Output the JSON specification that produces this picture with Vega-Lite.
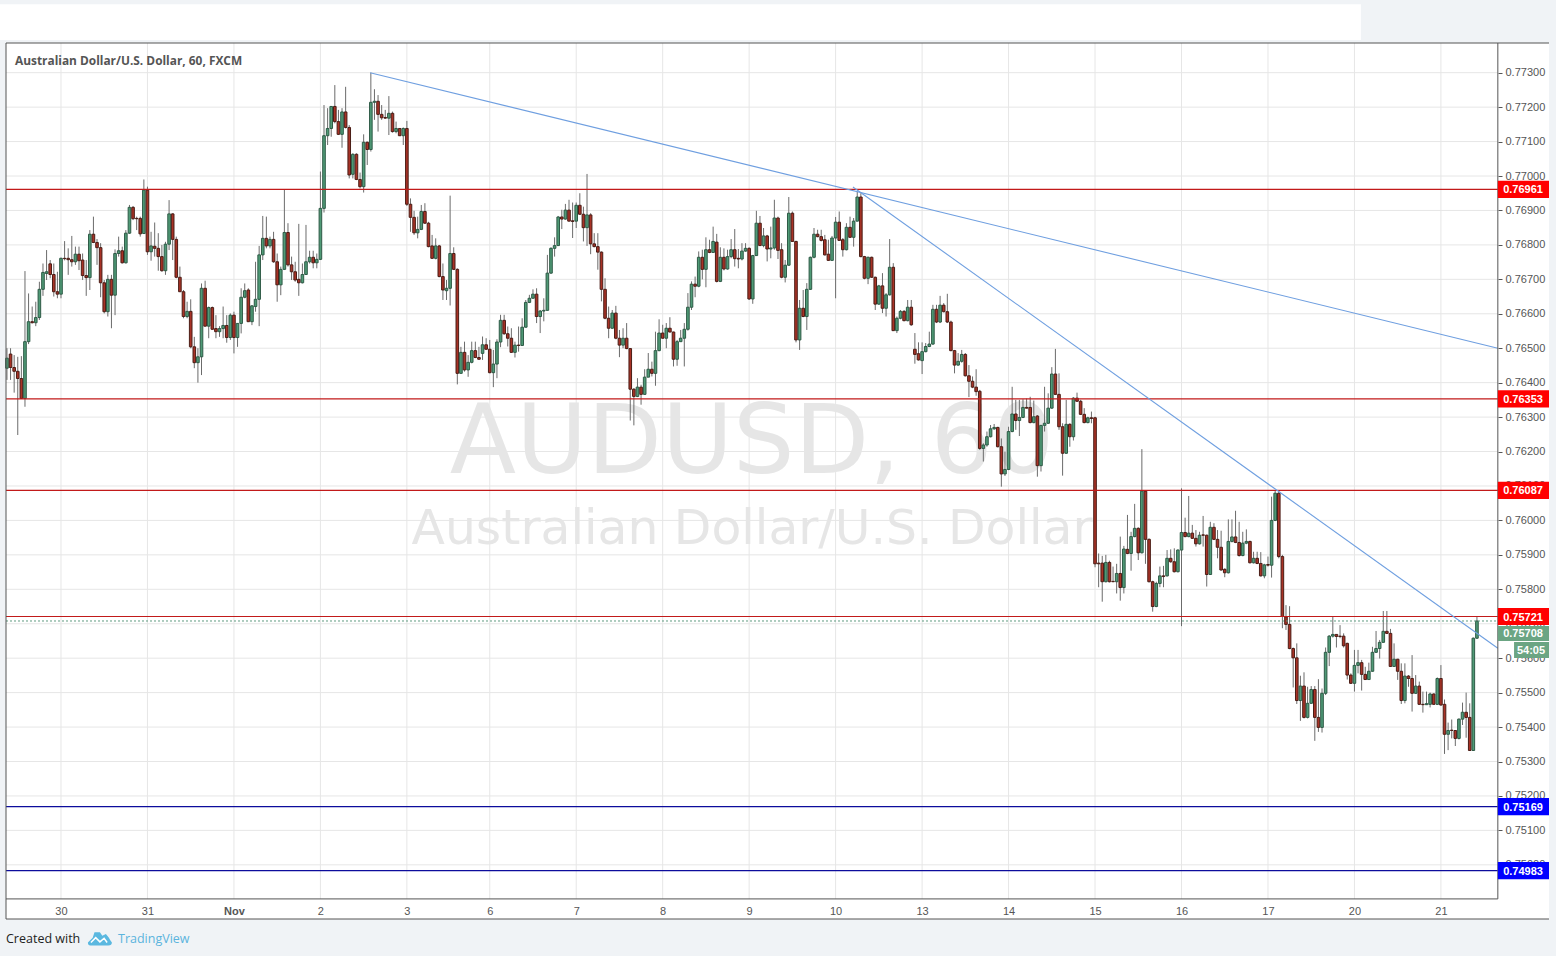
{"$schema":"https://vega.github.io/schema/vega-lite/v6.json","width":1543,"height":876,"autosize":{"type":"none"},"padding":{"left":6,"top":43,"right":7,"bottom":37},"background":"#f0f3f6","config":{"view":{"fill":"#ffffff","stroke":null}},
"datasets":{"candles":[
{"t":-15,"o":0.76442,"h":0.765,"l":0.76408,"c":0.76471},{"t":-14,"o":0.76483,"h":0.765,"l":0.76408,"c":0.76444},{"t":-13,"o":0.76444,"h":0.7648,"l":0.76371,"c":0.76433},{"t":-12,"o":0.76433,"h":0.76475,"l":0.76248,"c":0.76412},{"t":-11,"o":0.76412,"h":0.76477,"l":0.76354,"c":0.76354},{"t":-10,"o":0.76354,"h":0.76724,"l":0.7633,"c":0.76519},{"t":-9,"o":0.76519,"h":0.76659,"l":0.76512,"c":0.76577},{"t":-8,"o":0.76577,"h":0.76621,"l":0.76572,"c":0.76574},{"t":-7,"o":0.76574,"h":0.76635,"l":0.76564,"c":0.76589},{"t":-6,"o":0.76589,"h":0.76693,"l":0.76582,"c":0.76671},{"t":-5,"o":0.76671,"h":0.76746,"l":0.76652,"c":0.7672},{"t":-4,"o":0.76717,"h":0.76785,"l":0.76698,"c":0.76722},{"t":-3,"o":0.76745,"h":0.76756,"l":0.76703,"c":0.76714},{"t":-2,"o":0.76714,"h":0.76746,"l":0.7665,"c":0.76664},{"t":-1,"o":0.76664,"h":0.76722,"l":0.76645,"c":0.76657},
{"t":0,"o":0.76657,"h":0.76763,"l":0.76645,"c":0.76761},{"t":1,"o":0.76761,"h":0.76811,"l":0.76755,"c":0.7676},{"t":2,"o":0.76761,"h":0.7679,"l":0.76713,"c":0.76757},{"t":3,"o":0.76757,"h":0.76826,"l":0.76737,"c":0.76751},{"t":4,"o":0.76751,"h":0.76795,"l":0.76742,"c":0.76773},{"t":5,"o":0.76773,"h":0.76795,"l":0.76727,"c":0.76754},{"t":6,"o":0.76756,"h":0.76775,"l":0.76698,"c":0.76711},{"t":7,"o":0.76711,"h":0.76756,"l":0.76652,"c":0.76705},{"t":8,"o":0.76705,"h":0.76843,"l":0.76669,"c":0.76831},{"t":9,"o":0.76831,"h":0.76882,"l":0.76805,"c":0.76807},{"t":10,"o":0.76807,"h":0.76817,"l":0.76742,"c":0.76792},{"t":11,"o":0.76792,"h":0.76805,"l":0.76648,"c":0.7669},{"t":12,"o":0.7669,"h":0.76698,"l":0.76601,"c":0.76606},{"t":13,"o":0.76606,"h":0.76713,"l":0.76592,"c":0.767},{"t":14,"o":0.767,"h":0.76713,"l":0.76558,"c":0.76654},{"t":15,"o":0.76654,"h":0.76787,"l":0.76596,"c":0.76775},{"t":16,"o":0.76775,"h":0.76824,"l":0.76766,"c":0.76783},{"t":17,"o":0.76783,"h":0.76795,"l":0.76746,"c":0.76748},{"t":18,"o":0.76748,"h":0.76843,"l":0.76746,"c":0.76834},{"t":19,"o":0.76834,"h":0.76916,"l":0.76832,"c":0.76909},{"t":20,"o":0.76909,"h":0.76913,"l":0.76872,"c":0.76876},{"t":21,"o":0.76877,"h":0.76882,"l":0.76843,"c":0.76876},{"t":22,"o":0.76877,"h":0.76882,"l":0.76824,"c":0.76832},{"t":23,"o":0.76833,"h":0.7699,"l":0.76832,"c":0.76959},{"t":24,"o":0.76959,"h":0.76969,"l":0.76771,"c":0.7678},
{"t":25,"o":0.7678,"h":0.76838,"l":0.76754,"c":0.76797},{"t":26,"o":0.76796,"h":0.76865,"l":0.76766,"c":0.7679},{"t":27,"o":0.7679,"h":0.76834,"l":0.76725,"c":0.76766},{"t":28,"o":0.76766,"h":0.768,"l":0.76722,"c":0.76725},{"t":29,"o":0.76725,"h":0.76809,"l":0.76713,"c":0.76802},{"t":30,"o":0.76802,"h":0.7693,"l":0.76785,"c":0.7689},{"t":31,"o":0.7689,"h":0.76892,"l":0.76756,"c":0.76816},{"t":32,"o":0.76816,"h":0.76824,"l":0.76703,"c":0.76706},{"t":33,"o":0.76706,"h":0.76737,"l":0.76664,"c":0.76664},{"t":34,"o":0.76664,"h":0.76669,"l":0.76587,"c":0.76592},{"t":35,"o":0.76592,"h":0.76635,"l":0.76587,"c":0.76607},{"t":36,"o":0.76607,"h":0.76642,"l":0.765,"c":0.76504},{"t":37,"o":0.76504,"h":0.76533,"l":0.76442,"c":0.76458},{"t":38,"o":0.76458,"h":0.765,"l":0.764,"c":0.76475},{"t":39,"o":0.76475,"h":0.76688,"l":0.76422,"c":0.76674},{"t":40,"o":0.76674,"h":0.76696,"l":0.76563,"c":0.76564},{"t":41,"o":0.76564,"h":0.76621,"l":0.76529,"c":0.76618},{"t":42,"o":0.76618,"h":0.76621,"l":0.76553,"c":0.76555},{"t":43,"o":0.76557,"h":0.76596,"l":0.76529,"c":0.76548},{"t":44,"o":0.76548,"h":0.76564,"l":0.76533,"c":0.76557},{"t":45,"o":0.76557,"h":0.76621,"l":0.76529,"c":0.76566},{"t":46,"o":0.76566,"h":0.76596,"l":0.76516,"c":0.76531},{"t":47,"o":0.76531,"h":0.76601,"l":0.76524,"c":0.76596},{"t":48,"o":0.76596,"h":0.76606,"l":0.76485,"c":0.76531},{"t":49,"o":0.76531,"h":0.76572,"l":0.76504,"c":0.76572},
{"t":50,"o":0.76572,"h":0.76674,"l":0.76543,"c":0.76648},{"t":51,"o":0.76648,"h":0.76688,"l":0.76645,"c":0.76667},{"t":52,"o":0.76669,"h":0.76674,"l":0.76577,"c":0.76577},{"t":53,"o":0.76577,"h":0.76625,"l":0.76567,"c":0.76623},{"t":54,"o":0.76621,"h":0.76751,"l":0.76606,"c":0.76642},{"t":55,"o":0.76642,"h":0.76797,"l":0.76564,"c":0.76771},{"t":56,"o":0.76771,"h":0.76884,"l":0.76756,"c":0.76819},{"t":57,"o":0.76819,"h":0.76882,"l":0.7679,"c":0.76797},{"t":58,"o":0.76797,"h":0.76824,"l":0.7679,"c":0.76816},{"t":59,"o":0.76816,"h":0.76838,"l":0.76748,"c":0.76751},{"t":60,"o":0.76751,"h":0.76775,"l":0.76635,"c":0.76684},{"t":61,"o":0.76684,"h":0.76737,"l":0.76654,"c":0.76729},{"t":62,"o":0.76729,"h":0.76961,"l":0.76727,"c":0.76836},{"t":63,"o":0.76836,"h":0.76863,"l":0.76737,"c":0.76742},{"t":64,"o":0.76742,"h":0.76766,"l":0.76698,"c":0.76722},{"t":65,"o":0.76722,"h":0.76751,"l":0.76693,"c":0.76698},{"t":66,"o":0.767,"h":0.76861,"l":0.76652,"c":0.7669},{"t":67,"o":0.7669,"h":0.76746,"l":0.76688,"c":0.76714},{"t":68,"o":0.76714,"h":0.76858,"l":0.76713,"c":0.76751},{"t":69,"o":0.76751,"h":0.76783,"l":0.76746,"c":0.76764},{"t":70,"o":0.76764,"h":0.76783,"l":0.76732,"c":0.76748},{"t":71,"o":0.76748,"h":0.76775,"l":0.76732,"c":0.76758},{"t":72,"o":0.76758,"h":0.77013,"l":0.76756,"c":0.76906},{"t":73,"o":0.76906,"h":0.77206,"l":0.76894,"c":0.77117},{"t":74,"o":0.77117,"h":0.77197,"l":0.7709,"c":0.77138},
{"t":75,"o":0.77138,"h":0.77203,"l":0.77114,"c":0.77202},{"t":76,"o":0.77202,"h":0.77264,"l":0.77153,"c":0.77158},{"t":77,"o":0.77158,"h":0.77192,"l":0.77119,"c":0.77121},{"t":78,"o":0.77121,"h":0.77197,"l":0.77082,"c":0.77186},{"t":79,"o":0.77186,"h":0.77259,"l":0.77138,"c":0.77141},{"t":80,"o":0.77141,"h":0.77148,"l":0.76993,"c":0.77003},{"t":81,"o":0.77005,"h":0.77066,"l":0.76993,"c":0.77063},{"t":82,"o":0.77063,"h":0.77066,"l":0.76988,"c":0.7699},{"t":83,"o":0.7699,"h":0.7701,"l":0.76964,"c":0.76969},{"t":84,"o":0.76969,"h":0.77121,"l":0.76952,"c":0.77098},{"t":85,"o":0.77098,"h":0.771,"l":0.77032,"c":0.77077},{"t":86,"o":0.77077,"h":0.773,"l":0.77071,"c":0.77214},{"t":87,"o":0.77214,"h":0.77252,"l":0.77163,"c":0.77217},{"t":88,"o":0.77217,"h":0.77235,"l":0.77129,"c":0.77179},{"t":89,"o":0.77179,"h":0.77206,"l":0.77163,"c":0.77169},{"t":90,"o":0.7717,"h":0.77192,"l":0.77166,"c":0.77168},{"t":91,"o":0.77168,"h":0.77232,"l":0.77119,"c":0.77182},{"t":92,"o":0.77182,"h":0.77187,"l":0.77126,"c":0.77129},{"t":93,"o":0.77129,"h":0.77158,"l":0.77124,"c":0.77138},{"t":94,"o":0.77138,"h":0.77138,"l":0.77116,"c":0.77117},{"t":95,"o":0.77117,"h":0.77141,"l":0.7709,"c":0.77138},{"t":96,"o":0.77138,"h":0.7716,"l":0.76913,"c":0.76918},{"t":97,"o":0.76918,"h":0.76935,"l":0.76838,"c":0.7688},{"t":98,"o":0.7688,"h":0.76899,"l":0.76829,"c":0.76835},{"t":99,"o":0.76835,"h":0.76882,"l":0.76819,"c":0.76845},
{"t":100,"o":0.76845,"h":0.76916,"l":0.76843,"c":0.76897},{"t":101,"o":0.76897,"h":0.76921,"l":0.76861,"c":0.76863},{"t":102,"o":0.76863,"h":0.76867,"l":0.76793,"c":0.76795},{"t":103,"o":0.76797,"h":0.76829,"l":0.76759,"c":0.76761},{"t":104,"o":0.76761,"h":0.76819,"l":0.76758,"c":0.76797},{"t":105,"o":0.76797,"h":0.768,"l":0.76706,"c":0.76708},{"t":106,"o":0.76708,"h":0.76746,"l":0.7664,"c":0.76669},{"t":107,"o":0.76667,"h":0.76698,"l":0.7664,"c":0.76674},{"t":108,"o":0.76674,"h":0.76943,"l":0.76624,"c":0.76775},{"t":109,"o":0.76775,"h":0.76793,"l":0.76727,"c":0.76729},{"t":110,"o":0.76729,"h":0.76732,"l":0.76395,"c":0.76427},{"t":111,"o":0.76427,"h":0.76504,"l":0.76427,"c":0.76488},{"t":112,"o":0.76488,"h":0.76519,"l":0.76432,"c":0.76437},{"t":113,"o":0.76437,"h":0.7648,"l":0.76417,"c":0.76459},{"t":114,"o":0.76459,"h":0.76519,"l":0.76456,"c":0.76493},{"t":115,"o":0.76493,"h":0.76519,"l":0.76471,"c":0.76473},{"t":116,"o":0.76473,"h":0.76504,"l":0.76466,"c":0.76468},{"t":117,"o":0.76485,"h":0.76534,"l":0.76466,"c":0.7651},{"t":118,"o":0.7651,"h":0.76529,"l":0.76495,"c":0.76497},{"t":119,"o":0.76497,"h":0.76524,"l":0.76427,"c":0.76429},{"t":120,"o":0.76429,"h":0.76495,"l":0.76387,"c":0.76454},{"t":121,"o":0.76454,"h":0.76526,"l":0.76413,"c":0.76518},{"t":122,"o":0.76518,"h":0.76597,"l":0.76503,"c":0.76581},{"t":123,"o":0.76581,"h":0.76597,"l":0.76539,"c":0.76542},{"t":124,"o":0.76542,"h":0.76563,"l":0.76505,"c":0.76529},
{"t":125,"o":0.76529,"h":0.76558,"l":0.76487,"c":0.76488},{"t":126,"o":0.76488,"h":0.76519,"l":0.76473,"c":0.76509},{"t":127,"o":0.76509,"h":0.76563,"l":0.7649,"c":0.76508},{"t":128,"o":0.76508,"h":0.76587,"l":0.76508,"c":0.76561},{"t":129,"o":0.76561,"h":0.7664,"l":0.7656,"c":0.76633},{"t":130,"o":0.76633,"h":0.76655,"l":0.76631,"c":0.76645},{"t":131,"o":0.76645,"h":0.76671,"l":0.76645,"c":0.76657},{"t":132,"o":0.76657,"h":0.76674,"l":0.76573,"c":0.76592},{"t":133,"o":0.76592,"h":0.76611,"l":0.76544,"c":0.76608},{"t":134,"o":0.76608,"h":0.76645,"l":0.76578,"c":0.7661},{"t":135,"o":0.7661,"h":0.76771,"l":0.76609,"c":0.76718},{"t":136,"o":0.76718,"h":0.76793,"l":0.76716,"c":0.7679},{"t":137,"o":0.7679,"h":0.76822,"l":0.76766,"c":0.76798},{"t":138,"o":0.76798,"h":0.76884,"l":0.76797,"c":0.76881},{"t":139,"o":0.76881,"h":0.76902,"l":0.76846,"c":0.76875},{"t":140,"o":0.76875,"h":0.76919,"l":0.76873,"c":0.76901},{"t":141,"o":0.76901,"h":0.76931,"l":0.76868,"c":0.76869},{"t":142,"o":0.7687,"h":0.76923,"l":0.7682,"c":0.76868},{"t":143,"o":0.76869,"h":0.76923,"l":0.76849,"c":0.76915},{"t":144,"o":0.76915,"h":0.7695,"l":0.76887,"c":0.76889},{"t":145,"o":0.76889,"h":0.76911,"l":0.7681,"c":0.7685},{"t":146,"o":0.7685,"h":0.77006,"l":0.76797,"c":0.76887},{"t":147,"o":0.76887,"h":0.76892,"l":0.76773,"c":0.76803},{"t":148,"o":0.76803,"h":0.76834,"l":0.76793,"c":0.76795},{"t":149,"o":0.76795,"h":0.76834,"l":0.76728,"c":0.76779},
{"t":150,"o":0.76779,"h":0.76781,"l":0.76636,"c":0.76671},{"t":151,"o":0.76671,"h":0.76703,"l":0.76584,"c":0.76587},{"t":152,"o":0.76587,"h":0.76621,"l":0.76529,"c":0.76558},{"t":153,"o":0.76558,"h":0.76611,"l":0.76556,"c":0.76602},{"t":154,"o":0.76602,"h":0.76623,"l":0.76526,"c":0.76529},{"t":155,"o":0.76529,"h":0.76553,"l":0.76474,"c":0.76509},{"t":156,"o":0.76509,"h":0.76558,"l":0.765,"c":0.76529},{"t":157,"o":0.76529,"h":0.76573,"l":0.76497,"c":0.76499},{"t":158,"o":0.76499,"h":0.765,"l":0.7629,"c":0.76381},{"t":159,"o":0.76381,"h":0.76384,"l":0.76276,"c":0.7636},{"t":160,"o":0.7636,"h":0.76413,"l":0.76358,"c":0.76387},{"t":161,"o":0.76387,"h":0.76394,"l":0.76336,"c":0.76366},{"t":162,"o":0.76366,"h":0.76439,"l":0.76365,"c":0.76416},{"t":163,"o":0.76416,"h":0.76486,"l":0.76416,"c":0.76439},{"t":164,"o":0.76439,"h":0.76461,"l":0.76418,"c":0.76427},{"t":165,"o":0.76427,"h":0.76548,"l":0.76391,"c":0.76493},{"t":166,"o":0.76493,"h":0.76584,"l":0.76491,"c":0.76544},{"t":167,"o":0.76544,"h":0.76568,"l":0.76528,"c":0.76529},{"t":168,"o":0.76529,"h":0.76573,"l":0.765,"c":0.76558},{"t":169,"o":0.76558,"h":0.7659,"l":0.76546,"c":0.76547},{"t":170,"o":0.76547,"h":0.76548,"l":0.76447,"c":0.76468},{"t":171,"o":0.76468,"h":0.76524,"l":0.76449,"c":0.76519},{"t":172,"o":0.76519,"h":0.76553,"l":0.76518,"c":0.76529},{"t":173,"o":0.76529,"h":0.76573,"l":0.76447,"c":0.76555},{"t":174,"o":0.76555,"h":0.7666,"l":0.76551,"c":0.76619},
{"t":175,"o":0.76619,"h":0.76694,"l":0.76611,"c":0.76686},{"t":176,"o":0.76686,"h":0.76708,"l":0.76648,"c":0.7668},{"t":177,"o":0.7668,"h":0.76781,"l":0.76677,"c":0.76764},{"t":178,"o":0.76764,"h":0.76786,"l":0.767,"c":0.76729},{"t":179,"o":0.76729,"h":0.76822,"l":0.76677,"c":0.76786},{"t":180,"o":0.76786,"h":0.76815,"l":0.76776,"c":0.76778},{"t":181,"o":0.76778,"h":0.76853,"l":0.76778,"c":0.7681},{"t":182,"o":0.76808,"h":0.76832,"l":0.76691,"c":0.76694},{"t":183,"o":0.76694,"h":0.76793,"l":0.76692,"c":0.76764},{"t":184,"o":0.76764,"h":0.7679,"l":0.76726,"c":0.7673},{"t":185,"o":0.7673,"h":0.76786,"l":0.76728,"c":0.76766},{"t":186,"o":0.76766,"h":0.76817,"l":0.76761,"c":0.76786},{"t":187,"o":0.76786,"h":0.76846,"l":0.76737,"c":0.7676},{"t":188,"o":0.76761,"h":0.76788,"l":0.76732,"c":0.76759},{"t":189,"o":0.76759,"h":0.76805,"l":0.76755,"c":0.76782},{"t":190,"o":0.76782,"h":0.76805,"l":0.7678,"c":0.7679},{"t":191,"o":0.7679,"h":0.76793,"l":0.7664,"c":0.76643},{"t":192,"o":0.76643,"h":0.76771,"l":0.76629,"c":0.76769},{"t":193,"o":0.76769,"h":0.76899,"l":0.76768,"c":0.76863},{"t":194,"o":0.76863,"h":0.76884,"l":0.76797,"c":0.76798},{"t":195,"o":0.76798,"h":0.76849,"l":0.76793,"c":0.76826},{"t":196,"o":0.76826,"h":0.76829,"l":0.76752,"c":0.76788},{"t":197,"o":0.76788,"h":0.76853,"l":0.76761,"c":0.76791},{"t":198,"o":0.76791,"h":0.76931,"l":0.76786,"c":0.76878},{"t":199,"o":0.76878,"h":0.76882,"l":0.76759,"c":0.76784},
{"t":200,"o":0.76786,"h":0.76805,"l":0.76703,"c":0.76706},{"t":201,"o":0.76706,"h":0.76756,"l":0.76691,"c":0.76741},{"t":202,"o":0.76741,"h":0.76939,"l":0.76739,"c":0.76892},{"t":203,"o":0.76892,"h":0.76897,"l":0.76809,"c":0.7681},{"t":204,"o":0.7681,"h":0.76812,"l":0.76517,"c":0.76524},{"t":205,"o":0.76524,"h":0.7664,"l":0.76495,"c":0.76616},{"t":206,"o":0.76616,"h":0.76669,"l":0.7659,"c":0.76592},{"t":207,"o":0.76592,"h":0.76689,"l":0.76553,"c":0.76671},{"t":208,"o":0.76671,"h":0.76766,"l":0.76669,"c":0.76764},{"t":209,"o":0.76764,"h":0.76849,"l":0.76761,"c":0.76831},{"t":210,"o":0.76831,"h":0.76844,"l":0.76822,"c":0.76824},{"t":211,"o":0.76824,"h":0.76844,"l":0.7681,"c":0.76813},{"t":212,"o":0.76815,"h":0.76829,"l":0.76769,"c":0.76771},{"t":213,"o":0.76773,"h":0.76815,"l":0.76754,"c":0.76755},{"t":214,"o":0.76755,"h":0.76826,"l":0.76754,"c":0.7682},{"t":215,"o":0.7682,"h":0.76881,"l":0.76645,"c":0.76866},{"t":216,"o":0.76866,"h":0.76897,"l":0.76812,"c":0.76813},{"t":217,"o":0.76815,"h":0.7682,"l":0.76766,"c":0.76786},{"t":218,"o":0.76786,"h":0.76863,"l":0.76784,"c":0.76851},{"t":219,"o":0.76851,"h":0.76882,"l":0.7682,"c":0.76822},{"t":220,"o":0.76822,"h":0.76878,"l":0.76795,"c":0.76869},{"t":221,"o":0.76869,"h":0.76955,"l":0.76868,"c":0.76939},{"t":222,"o":0.76939,"h":0.7695,"l":0.76764,"c":0.76766},{"t":223,"o":0.76766,"h":0.76768,"l":0.767,"c":0.76703},{"t":224,"o":0.76703,"h":0.76766,"l":0.76686,"c":0.76764},
{"t":225,"o":0.76764,"h":0.76766,"l":0.76704,"c":0.76706},{"t":226,"o":0.76706,"h":0.76708,"l":0.76611,"c":0.76628},{"t":227,"o":0.76628,"h":0.76684,"l":0.76626,"c":0.76681},{"t":228,"o":0.76681,"h":0.76718,"l":0.76602,"c":0.76616},{"t":229,"o":0.76616,"h":0.7666,"l":0.76592,"c":0.76655},{"t":230,"o":0.76655,"h":0.76817,"l":0.76653,"c":0.76735},{"t":231,"o":0.76735,"h":0.76747,"l":0.7655,"c":0.76551},{"t":232,"o":0.76551,"h":0.76592,"l":0.76544,"c":0.76587},{"t":233,"o":0.76587,"h":0.76611,"l":0.76584,"c":0.76607},{"t":234,"o":0.76607,"h":0.76611,"l":0.76578,"c":0.7658},{"t":235,"o":0.7658,"h":0.7664,"l":0.76578,"c":0.76619},{"t":236,"o":0.76619,"h":0.7664,"l":0.76565,"c":0.76568},{"t":237,"o":0.76497,"h":0.76544,"l":0.76455,"c":0.76482},{"t":238,"o":0.76484,"h":0.76517,"l":0.76464,"c":0.76466},{"t":239,"o":0.76464,"h":0.76517,"l":0.76425,"c":0.7649},{"t":240,"o":0.7649,"h":0.76515,"l":0.76488,"c":0.76505},{"t":241,"o":0.76505,"h":0.76548,"l":0.76503,"c":0.76512},{"t":242,"o":0.76512,"h":0.76626,"l":0.7651,"c":0.76613},{"t":243,"o":0.76613,"h":0.76626,"l":0.76573,"c":0.76576},{"t":244,"o":0.76576,"h":0.76652,"l":0.76573,"c":0.76625},{"t":245,"o":0.76625,"h":0.76631,"l":0.76604,"c":0.76606},{"t":246,"o":0.76606,"h":0.76658,"l":0.76573,"c":0.76576},{"t":247,"o":0.76576,"h":0.7658,"l":0.76491,"c":0.76493},{"t":248,"o":0.76493,"h":0.76495,"l":0.76427,"c":0.76451},{"t":249,"o":0.76451,"h":0.76486,"l":0.76449,"c":0.76462},
{"t":250,"o":0.76462,"h":0.76495,"l":0.76458,"c":0.76482},{"t":251,"o":0.76482,"h":0.76486,"l":0.76418,"c":0.7642},{"t":252,"o":0.7642,"h":0.76451,"l":0.76358,"c":0.76404},{"t":253,"o":0.76404,"h":0.76418,"l":0.76384,"c":0.76387},{"t":254,"o":0.76387,"h":0.76439,"l":0.76362,"c":0.76374},{"t":255,"o":0.76375,"h":0.76379,"l":0.76205,"c":0.76209},{"t":256,"o":0.76209,"h":0.76224,"l":0.76171,"c":0.76219},{"t":257,"o":0.76219,"h":0.76258,"l":0.76214,"c":0.76243},{"t":258,"o":0.76243,"h":0.76277,"l":0.76241,"c":0.76266},{"t":259,"o":0.76266,"h":0.7628,"l":0.76263,"c":0.7627},{"t":260,"o":0.7627,"h":0.76272,"l":0.76212,"c":0.76214},{"t":261,"o":0.76214,"h":0.76238,"l":0.76098,"c":0.76135},{"t":262,"o":0.76135,"h":0.762,"l":0.76129,"c":0.76148},{"t":263,"o":0.76148,"h":0.76272,"l":0.76146,"c":0.76258},{"t":264,"o":0.76258,"h":0.76388,"l":0.76256,"c":0.76309},{"t":265,"o":0.76309,"h":0.7635,"l":0.76263,"c":0.7629},{"t":266,"o":0.7629,"h":0.7635,"l":0.76245,"c":0.76299},{"t":267,"o":0.76299,"h":0.76352,"l":0.76297,"c":0.76328},{"t":268,"o":0.76328,"h":0.76354,"l":0.76325,"c":0.76326},{"t":269,"o":0.76328,"h":0.76359,"l":0.76282,"c":0.76284},{"t":270,"o":0.76284,"h":0.76348,"l":0.76282,"c":0.76301},{"t":271,"o":0.76303,"h":0.76306,"l":0.76127,"c":0.76159},{"t":272,"o":0.76159,"h":0.76277,"l":0.76142,"c":0.76276},{"t":273,"o":0.76276,"h":0.76388,"l":0.76258,"c":0.76282},{"t":274,"o":0.76282,"h":0.76369,"l":0.7628,"c":0.76326},
{"t":275,"o":0.76326,"h":0.76445,"l":0.76324,"c":0.76425},{"t":276,"o":0.76425,"h":0.76498,"l":0.76364,"c":0.76366},{"t":277,"o":0.76366,"h":0.76427,"l":0.76263,"c":0.76272},{"t":278,"o":0.76272,"h":0.76282,"l":0.7613,"c":0.76195},{"t":279,"o":0.76195,"h":0.7635,"l":0.76193,"c":0.76279},{"t":280,"o":0.76279,"h":0.76282,"l":0.76214,"c":0.76243},{"t":281,"o":0.76243,"h":0.76358,"l":0.76232,"c":0.76355},{"t":282,"o":0.76355,"h":0.76371,"l":0.76344,"c":0.76346},{"t":283,"o":0.76346,"h":0.7635,"l":0.76306,"c":0.76308},{"t":284,"o":0.76308,"h":0.76326,"l":0.76282,"c":0.76284},{"t":285,"o":0.76284,"h":0.76301,"l":0.76282,"c":0.76298},{"t":286,"o":0.76298,"h":0.76316,"l":0.76282,"c":0.76296},{"t":287,"o":0.76298,"h":0.76301,"l":0.75864,"c":0.75874},{"t":288,"o":0.75876,"h":0.75904,"l":0.75806,"c":0.75874},{"t":289,"o":0.75876,"h":0.75897,"l":0.75764,"c":0.75822},{"t":290,"o":0.75822,"h":0.759,"l":0.7582,"c":0.75878},{"t":291,"o":0.75878,"h":0.75883,"l":0.7582,"c":0.75822},{"t":292,"o":0.75823,"h":0.75866,"l":0.75821,"c":0.75822},{"t":293,"o":0.75822,"h":0.75874,"l":0.75788,"c":0.75846},{"t":294,"o":0.75846,"h":0.75953,"l":0.75767,"c":0.75805},{"t":295,"o":0.75805,"h":0.75926,"l":0.75788,"c":0.75917},{"t":296,"o":0.75916,"h":0.76016,"l":0.75902,"c":0.75904},{"t":297,"o":0.75904,"h":0.75967,"l":0.75854,"c":0.75953},{"t":298,"o":0.75953,"h":0.76048,"l":0.75951,"c":0.75977},{"t":299,"o":0.75977,"h":0.7598,"l":0.75885,"c":0.75906},
{"t":300,"o":0.75906,"h":0.76207,"l":0.75904,"c":0.76085},{"t":301,"o":0.76085,"h":0.76088,"l":0.75874,"c":0.75945},{"t":302,"o":0.75945,"h":0.75948,"l":0.7582,"c":0.75822},{"t":303,"o":0.75822,"h":0.75825,"l":0.75735,"c":0.7575},{"t":304,"o":0.7575,"h":0.75822,"l":0.75748,"c":0.75817},{"t":305,"o":0.75817,"h":0.75866,"l":0.75806,"c":0.75839},{"t":306,"o":0.75839,"h":0.75868,"l":0.75806,"c":0.75837},{"t":307,"o":0.75839,"h":0.75914,"l":0.75837,"c":0.7589},{"t":308,"o":0.7589,"h":0.75916,"l":0.75877,"c":0.7588},{"t":309,"o":0.7588,"h":0.75919,"l":0.75849,"c":0.75851},{"t":310,"o":0.75851,"h":0.75916,"l":0.75849,"c":0.75914},{"t":311,"o":0.75914,"h":0.76093,"l":0.75693,"c":0.75965},{"t":312,"o":0.75965,"h":0.76008,"l":0.75951,"c":0.75953},{"t":313,"o":0.75953,"h":0.76071,"l":0.75951,"c":0.75963},{"t":314,"o":0.75963,"h":0.75987,"l":0.75946,"c":0.75948},{"t":315,"o":0.75948,"h":0.75972,"l":0.75924,"c":0.75932},{"t":316,"o":0.75932,"h":0.75967,"l":0.7593,"c":0.75957},{"t":317,"o":0.75958,"h":0.76013,"l":0.75924,"c":0.75957},{"t":318,"o":0.75957,"h":0.75959,"l":0.75808,"c":0.75843},{"t":319,"o":0.75843,"h":0.75996,"l":0.75842,"c":0.7598},{"t":320,"o":0.7598,"h":0.75992,"l":0.75943,"c":0.75945},{"t":321,"o":0.75945,"h":0.75972,"l":0.7589,"c":0.75922},{"t":322,"o":0.75922,"h":0.7597,"l":0.75854,"c":0.75856},{"t":323,"o":0.75858,"h":0.75861,"l":0.75835,"c":0.75848},{"t":324,"o":0.75848,"h":0.76003,"l":0.75846,"c":0.75939},
{"t":325,"o":0.75939,"h":0.76003,"l":0.75936,"c":0.75952},{"t":326,"o":0.75952,"h":0.76028,"l":0.75934,"c":0.75936},{"t":327,"o":0.75936,"h":0.75996,"l":0.75895,"c":0.75898},{"t":328,"o":0.75898,"h":0.75967,"l":0.75896,"c":0.75934},{"t":329,"o":0.75934,"h":0.75974,"l":0.75931,"c":0.75939},{"t":330,"o":0.75939,"h":0.75941,"l":0.75875,"c":0.75877},{"t":331,"o":0.75877,"h":0.75909,"l":0.75875,"c":0.7589},{"t":332,"o":0.7589,"h":0.75909,"l":0.75873,"c":0.75875},{"t":333,"o":0.75875,"h":0.75908,"l":0.75837,"c":0.75839},{"t":334,"o":0.75839,"h":0.75874,"l":0.75832,"c":0.75871},{"t":335,"o":0.75872,"h":0.75895,"l":0.75866,"c":0.7587},{"t":336,"o":0.7587,"h":0.76069,"l":0.75834,"c":0.76},{"t":337,"o":0.76,"h":0.76086,"l":0.75998,"c":0.76079},{"t":338,"o":0.76079,"h":0.76084,"l":0.7589,"c":0.75895},{"t":339,"o":0.75895,"h":0.759,"l":0.75687,"c":0.75721},{"t":340,"o":0.7572,"h":0.75754,"l":0.75682,"c":0.75698},{"t":341,"o":0.75698,"h":0.75751,"l":0.75626,"c":0.75628},{"t":342,"o":0.75628,"h":0.75631,"l":0.75515,"c":0.75601},{"t":343,"o":0.75601,"h":0.75643,"l":0.75467,"c":0.75477},{"t":344,"o":0.75477,"h":0.75549,"l":0.75418,"c":0.75519},{"t":345,"o":0.75519,"h":0.75559,"l":0.75425,"c":0.75428},{"t":346,"o":0.75428,"h":0.75517,"l":0.75425,"c":0.75469},{"t":347,"o":0.75469,"h":0.75519,"l":0.75467,"c":0.75509},{"t":348,"o":0.75509,"h":0.75519,"l":0.7536,"c":0.75428},{"t":349,"o":0.75428,"h":0.75539,"l":0.75386,"c":0.75399},
{"t":350,"o":0.75399,"h":0.75512,"l":0.75384,"c":0.75498},{"t":351,"o":0.75498,"h":0.75631,"l":0.75493,"c":0.75617},{"t":352,"o":0.75617,"h":0.75667,"l":0.75577,"c":0.75664},{"t":353,"o":0.75664,"h":0.7572,"l":0.7566,"c":0.75669},{"t":354,"o":0.75669,"h":0.7567,"l":0.75631,"c":0.75663},{"t":355,"o":0.75664,"h":0.75696,"l":0.75658,"c":0.75663},{"t":356,"o":0.75664,"h":0.75672,"l":0.75631,"c":0.75636},{"t":357,"o":0.75643,"h":0.75645,"l":0.75538,"c":0.75551},{"t":358,"o":0.75551,"h":0.75556,"l":0.75525,"c":0.75527},{"t":359,"o":0.75527,"h":0.75624,"l":0.75503,"c":0.75579},{"t":360,"o":0.75579,"h":0.75624,"l":0.75556,"c":0.75587},{"t":361,"o":0.75587,"h":0.75595,"l":0.75506,"c":0.75553},{"t":362,"o":0.75553,"h":0.75575,"l":0.75537,"c":0.75538},{"t":363,"o":0.75538,"h":0.75587,"l":0.75537,"c":0.75562},{"t":364,"o":0.75562,"h":0.75633,"l":0.75561,"c":0.75617},{"t":365,"o":0.75617,"h":0.75679,"l":0.75615,"c":0.75628},{"t":366,"o":0.75628,"h":0.75653,"l":0.75599,"c":0.75646},{"t":367,"o":0.75646,"h":0.75737,"l":0.75645,"c":0.75678},{"t":368,"o":0.75678,"h":0.75737,"l":0.7567,"c":0.75672},{"t":369,"o":0.75672,"h":0.75685,"l":0.75575,"c":0.75576},{"t":370,"o":0.75576,"h":0.75643,"l":0.75575,"c":0.75597},{"t":371,"o":0.75597,"h":0.75598,"l":0.75537,"c":0.75562},{"t":372,"o":0.75562,"h":0.75585,"l":0.75467,"c":0.75477},{"t":373,"o":0.75477,"h":0.75585,"l":0.75469,"c":0.75548},{"t":374,"o":0.75548,"h":0.75551,"l":0.75517,"c":0.75541},
{"t":375,"o":0.75541,"h":0.75609,"l":0.75445,"c":0.75498},{"t":376,"o":0.75498,"h":0.75551,"l":0.75496,"c":0.75519},{"t":377,"o":0.75519,"h":0.75532,"l":0.75464,"c":0.75466},{"t":378,"o":0.75466,"h":0.75503,"l":0.75442,"c":0.75465},{"t":379,"o":0.75465,"h":0.75503,"l":0.75465,"c":0.75468},{"t":380,"o":0.75466,"h":0.755,"l":0.75457,"c":0.75496},{"t":381,"o":0.75496,"h":0.75498,"l":0.75464,"c":0.75466},{"t":382,"o":0.75466,"h":0.75544,"l":0.75464,"c":0.75541},{"t":383,"o":0.75541,"h":0.7558,"l":0.75462,"c":0.75464},{"t":384,"o":0.75466,"h":0.7548,"l":0.75322,"c":0.75379},{"t":385,"o":0.75379,"h":0.75413,"l":0.75333,"c":0.7539},{"t":386,"o":0.75391,"h":0.75422,"l":0.75367,"c":0.7539},{"t":387,"o":0.7539,"h":0.75391,"l":0.75345,"c":0.75367},{"t":388,"o":0.75367,"h":0.75425,"l":0.75364,"c":0.75423},{"t":389,"o":0.75423,"h":0.75471,"l":0.75406,"c":0.75443},{"t":390,"o":0.75443,"h":0.755,"l":0.75369,"c":0.75428},{"t":391,"o":0.75428,"h":0.75469,"l":0.75331,"c":0.75332},{"t":392,"o":0.75332,"h":0.7566,"l":0.75331,"c":0.75658},{"t":393,"o":0.75658,"h":0.7572,"l":0.75656,"c":0.75708}
],
"gridh":[{"p":0.750,"t":-15.265,"t2":398.8},{"p":0.751,"t":-15.265,"t2":398.8},{"p":0.752,"t":-15.265,"t2":398.8},{"p":0.753,"t":-15.265,"t2":398.8},{"p":0.754,"t":-15.265,"t2":398.8},{"p":0.755,"t":-15.265,"t2":398.8},{"p":0.756,"t":-15.265,"t2":398.8},{"p":0.757,"t":-15.265,"t2":398.8},{"p":0.758,"t":-15.265,"t2":398.8},{"p":0.759,"t":-15.265,"t2":398.8},{"p":0.760,"t":-15.265,"t2":398.8},{"p":0.761,"t":-15.265,"t2":398.8},{"p":0.762,"t":-15.265,"t2":398.8},{"p":0.763,"t":-15.265,"t2":398.8},{"p":0.764,"t":-15.265,"t2":398.8},{"p":0.765,"t":-15.265,"t2":398.8},{"p":0.766,"t":-15.265,"t2":398.8},{"p":0.767,"t":-15.265,"t2":398.8},{"p":0.768,"t":-15.265,"t2":398.8},{"p":0.769,"t":-15.265,"t2":398.8},{"p":0.770,"t":-15.265,"t2":398.8},{"p":0.771,"t":-15.265,"t2":398.8},{"p":0.772,"t":-15.265,"t2":398.8},{"p":0.773,"t":-15.265,"t2":398.8}],
"gridv":[{"t":0,"p":0.773862,"p2":0.74901},{"t":24,"p":0.773862,"p2":0.74901},{"t":48,"p":0.773862,"p2":0.74901},{"t":72,"p":0.773862,"p2":0.74901},{"t":96,"p":0.773862,"p2":0.74901},{"t":119,"p":0.773862,"p2":0.74901},{"t":143,"p":0.773862,"p2":0.74901},{"t":167,"p":0.773862,"p2":0.74901},{"t":191,"p":0.773862,"p2":0.74901},{"t":215,"p":0.773862,"p2":0.74901},{"t":239,"p":0.773862,"p2":0.74901},{"t":263,"p":0.773862,"p2":0.74901},{"t":287,"p":0.773862,"p2":0.74901},{"t":311,"p":0.773862,"p2":0.74901},{"t":335,"p":0.773862,"p2":0.74901},{"t":359,"p":0.773862,"p2":0.74901},{"t":383,"p":0.773862,"p2":0.74901}],
"redlevels":[{"p":0.76961,"t":-15.265,"t2":398.8},{"p":0.76353,"t":-15.265,"t2":398.8},{"p":0.76087,"t":-15.265,"t2":398.8},{"p":0.75721,"t":-15.265,"t2":398.8}],
"bluelevels":[{"p":0.75169,"t":-15.265,"t2":398.8},{"p":0.74983,"t":-15.265,"t2":398.8}],
"trend":[{"id":"a","t":85.8,"p":0.773},{"id":"a","t":398.8,"p":0.765},{"id":"b","t":219.8,"p":0.76968},{"id":"b","t":398.8,"p":0.75629}],
"frameh":[{"p":0.773862,"t":-15.265,"t2":413},{"p":0.74901,"t":-15.265,"t2":398.8},{"p":0.748427,"t":-15.265,"t2":413}],
"framev":[{"t":-15.265,"p":0.773862,"p2":0.748427},{"t":398.8,"p":0.773862,"p2":0.74901}],
"tagsred":[{"t":398.8,"t2":413,"p":0.76986,"p2":0.76936},{"t":398.8,"t2":413,"p":0.76378,"p2":0.76328},{"t":398.8,"t2":413,"p":0.76112,"p2":0.76062},{"t":398.8,"t2":413,"p":0.75746,"p2":0.75696}],
"tagsblue":[{"t":398.8,"t2":413,"p":0.75194,"p2":0.75144},{"t":398.8,"t2":413,"p":0.75008,"p2":0.74958}],
"tagsgreen":[{"t":398.8,"t2":413,"p":0.756935,"p2":0.756499},{"t":403.3,"t2":413,"p":0.75647,"p2":0.756005}],
"taglabels":[{"t":405.8,"p":0.76961,"label":"0.76961"},{"t":405.8,"p":0.76353,"label":"0.76353"},{"t":405.8,"p":0.76087,"label":"0.76087"},{"t":405.8,"p":0.75721,"label":"0.75721"},{"t":405.8,"p":0.756717,"label":"0.75708"},{"t":408,"p":0.756238,"label":"54:05"},{"t":405.8,"p":0.75169,"label":"0.75169"},{"t":405.8,"p":0.74983,"label":"0.74983"}]
},
"encoding":{"x":{"field":"t","type":"quantitative","scale":{"domain":[-15.265,413],"nice":false,"zero":false,"padding":0},"axis":{"orient":"bottom","offset":-19,"title":null,"grid":false,"domain":false,"ticks":false,"values":[0,24,48,72,96,119,143,167,191,215,239,263,287,311,335,359,383],"labelExpr":"['30','31','Nov','2','3','6','7','8','9','10','13','14','15','16','17','20','21'][indexof([0,24,48,72,96,119,143,167,191,215,239,263,287,311,335,359,383],datum.value)]","labelFont":"Liberation Sans","labelFontSize":11,"labelColor":"#555555","labelPadding":5,"labelOverlap":false,"labelFlush":false,"labelFontWeight":{"condition":{"test":"datum.value==48","value":"bold"},"value":"normal"}}},
"y":{"field":"p","type":"quantitative","scale":{"domain":[0.748427,0.773862],"nice":false,"zero":false},"axis":{"orient":"right","offset":-51,"title":null,"grid":false,"domain":false,"tickSize":4,"tickColor":"#555555","values":[0.75,0.751,0.752,0.753,0.754,0.755,0.756,0.757,0.758,0.759,0.76,0.761,0.762,0.763,0.764,0.765,0.766,0.767,0.768,0.769,0.77,0.771,0.772,0.773],"format":".5f","labelFont":"Liberation Sans","labelFontSize":11,"labelColor":"#555555","labelPadding":3,"labelOverlap":false,"labelFlush":false}}},
"layer":[
{"data":{"values":[{"t":-16.93,"t2":360.8,"p":0.77499,"p2":0.77395}]},"mark":{"type":"rect","fill":"#ffffff"},"encoding":{"x2":{"field":"t2"},"y2":{"field":"p2"}}},
{"data":{"name":"gridh"},"mark":{"type":"rule","color":"#e6e6e6","strokeWidth":1},"encoding":{"x2":{"field":"t2"}}},
{"data":{"name":"gridv"},"mark":{"type":"rule","color":"#e6e6e6","strokeWidth":1},"encoding":{"y2":{"field":"p2"}}},
{"data":{"values":[{"t":191.8,"p":0.762219,"label":"AUDUSD, 60"}]},"mark":{"type":"text","font":"DejaVu Sans","fontSize":97,"color":"#e6e6e6","align":"center","baseline":"middle"},"encoding":{"text":{"field":"label"}}},
{"data":{"values":[{"t":191.8,"p":0.759751,"label":"Australian Dollar/U.S. Dollar"}]},"mark":{"type":"text","font":"DejaVu Sans","fontSize":48.8,"color":"#e6e6e6","align":"center","baseline":"middle"},"encoding":{"text":{"field":"label"}}},
{"data":{"name":"candles"},"mark":{"type":"rule","color":"#6b6b6b","strokeWidth":1},"encoding":{"y":{"field":"h","type":"quantitative","scale":{"domain":[0.748427,0.773862],"nice":false,"zero":false},"axis":{"orient":"right","offset":-51,"title":null,"grid":false,"domain":false,"tickSize":4,"tickColor":"#555555","values":[0.75,0.751,0.752,0.753,0.754,0.755,0.756,0.757,0.758,0.759,0.76,0.761,0.762,0.763,0.764,0.765,0.766,0.767,0.768,0.769,0.77,0.771,0.772,0.773],"format":".5f","labelFont":"Liberation Sans","labelFontSize":11,"labelColor":"#555555","labelPadding":3,"labelOverlap":false,"labelFlush":false}},"y2":{"field":"l"}}},
{"data":{"name":"candles"},"mark":{"type":"bar","width":2.6,"strokeWidth":1,"orient":"vertical"},"encoding":{"y":{"field":"o","type":"quantitative","scale":{"domain":[0.748427,0.773862],"nice":false,"zero":false},"axis":{"orient":"right","offset":-51,"title":null,"grid":false,"domain":false,"tickSize":4,"tickColor":"#555555","values":[0.75,0.751,0.752,0.753,0.754,0.755,0.756,0.757,0.758,0.759,0.76,0.761,0.762,0.763,0.764,0.765,0.766,0.767,0.768,0.769,0.77,0.771,0.772,0.773],"format":".5f","labelFont":"Liberation Sans","labelFontSize":11,"labelColor":"#555555","labelPadding":3,"labelOverlap":false,"labelFlush":false}},"y2":{"field":"c"},"fill":{"condition":{"test":"datum.c<datum.o","value":"#a83226"},"value":"#4f9a76"},"stroke":{"condition":{"test":"datum.c<datum.o","value":"#4a1d16"},"value":"#2e5a46"}}},
{"data":{"name":"redlevels"},"mark":{"type":"rule","color":"#c21a1a","strokeWidth":1.2},"encoding":{"x2":{"field":"t2"}}},
{"data":{"name":"bluelevels"},"mark":{"type":"rule","color":"#0c0c9c","strokeWidth":1.2},"encoding":{"x2":{"field":"t2"}}},
{"data":{"values":[{"p":0.75708,"t":-15.265,"t2":398.8}]},"mark":{"type":"rule","color":"#5f9a80","strokeWidth":1,"strokeDash":[2,2]},"encoding":{"x2":{"field":"t2"}}},
{"data":{"name":"trend"},"mark":{"type":"line","color":"#6f9fe0","strokeWidth":1.1},"encoding":{"detail":{"field":"id"}}},
{"data":{"name":"frameh"},"mark":{"type":"rule","color":"#555555","strokeWidth":1},"encoding":{"x2":{"field":"t2"}}},
{"data":{"name":"framev"},"mark":{"type":"rule","color":"#555555","strokeWidth":1},"encoding":{"y2":{"field":"p2"}}},
{"data":{"name":"tagsred"},"mark":{"type":"rect","fill":"#ff0000"},"encoding":{"x2":{"field":"t2"},"y2":{"field":"p2"}}},
{"data":{"name":"tagsblue"},"mark":{"type":"rect","fill":"#0000ff"},"encoding":{"x2":{"field":"t2"},"y2":{"field":"p2"}}},
{"data":{"name":"tagsgreen"},"mark":{"type":"rect","fill":"#6ba583"},"encoding":{"x2":{"field":"t2"},"y2":{"field":"p2"}}},
{"data":{"name":"taglabels"},"mark":{"type":"text","font":"Liberation Sans","fontSize":11,"fontWeight":"bold","color":"#ffffff","align":"center","baseline":"middle","dy":1},"encoding":{"text":{"field":"label"}}},
{"data":{"values":[{"t":-12.77,"p":0.77334,"label":"Australian Dollar/U.S. Dollar, 60, FXCM"}]},"mark":{"type":"text","font":"Open Sans","fontSize":11.9,"fontWeight":"bold","color":"#555555","align":"left","baseline":"middle"},"encoding":{"text":{"field":"label"}}},
{"data":{"values":[{"t":-15.27,"p":0.74785,"label":"Created with"}]},"mark":{"type":"text","font":"Open Sans","fontSize":12.5,"color":"#222222","align":"left","baseline":"middle"},"encoding":{"text":{"field":"label"}}},
{"data":{"values":[{"t":15.82,"p":0.74785,"label":"TradingView"}]},"mark":{"type":"text","font":"Open Sans","fontSize":12.5,"color":"#5bb4dd","align":"left","baseline":"middle"},"encoding":{"text":{"field":"label"}}},
{"data":{"values":[{"t":10.8,"p":0.74785}]},"mark":{"type":"point","filled":true,"size":576,"color":"#5bb8e0","opacity":1,"shape":"M-1,0.3 L-0.6,-0.1 L-0.45,-0.55 L0,-0.55 L0.2,-0.25 L0.5,-0.4 L0.75,-0.1 L0.85,0.1 L1,0.3 Q1,0.55 0.7,0.55 L-0.8,0.55 Q-1,0.55 -1,0.3 Z"}},
{"data":{"values":[{"t":10.8,"p":0.74785}]},"mark":{"type":"point","filled":false,"size":576,"color":"#ffffff","strokeWidth":1.5,"opacity":1,"shape":"M-0.75,0.3 L-0.35,-0.1 L0,0.25 L0.35,-0.05 L0.6,0.3"}}
]}
